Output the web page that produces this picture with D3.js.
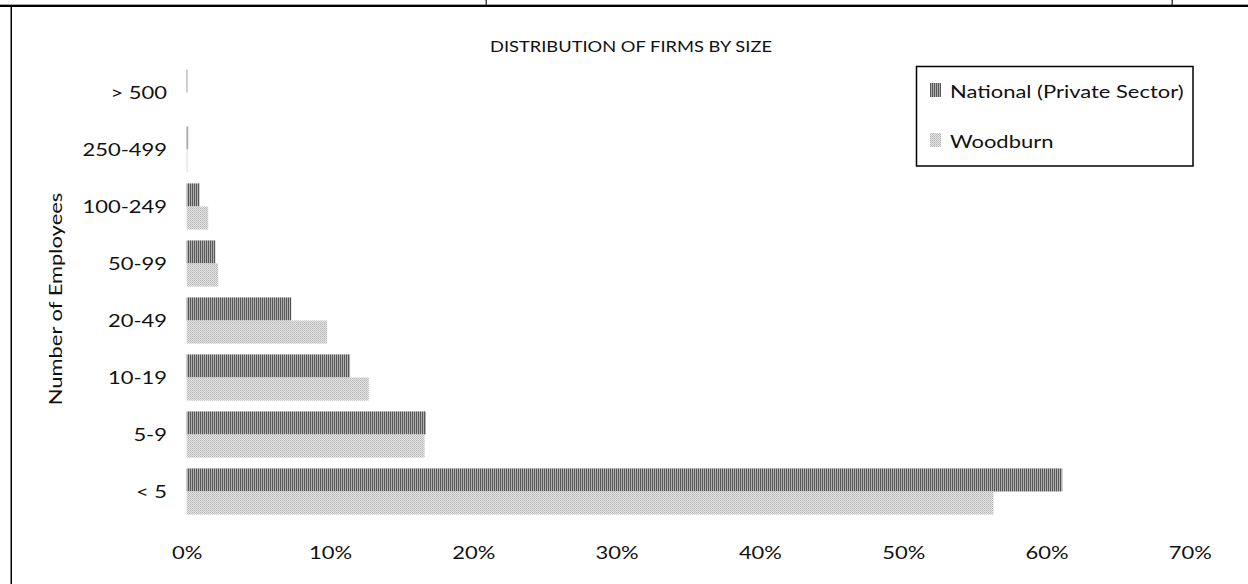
<!DOCTYPE html>
<html><head><meta charset="utf-8">
<script src="https://cdn.jsdelivr.net/npm/d3@7"></script>
<style>body{margin:0;background:#fff}svg{display:block}text{font-family:Lato,"Open Sans",sans-serif;fill:#111}</style>
</head><body>
<svg id="c" width="1248" height="584"></svg>
<script>
const categories = ["> 500","250-499","100-249","50-99","20-49","10-19","5-9","< 5"];
const seriesNames = ["National (Private Sector)","Woodburn"];
const nationalValues = [0.0006,0.001,0.009,0.020,0.073,0.114,0.167,0.611];
const woodburnValues = [0.0,0.0005,0.015,0.022,0.098,0.127,0.166,0.563];
const xTicks = [0,0.1,0.2,0.3,0.4,0.5,0.6,0.7];
const titleText = "DISTRIBUTION OF FIRMS BY SIZE";
const yTitle = "Number of Employees";

const SX = 1.22; // horizontal stretch of the text, as in the reference
const svg = d3.select("#c");
const defs = svg.append("defs");
const p1 = defs.append("pattern").attr("id","pN").attr("patternUnits","userSpaceOnUse").attr("width",2).attr("height",2);
p1.append("rect").attr("width",2).attr("height",2).attr("fill","#b0b0b0");
p1.append("rect").attr("width",1).attr("height",2).attr("fill","#575757");
const p2 = defs.append("pattern").attr("id","pW").attr("patternUnits","userSpaceOnUse").attr("width",2).attr("height",2);
p2.append("rect").attr("width",2).attr("height",2).attr("fill","#e6e6e6");
p2.append("rect").attr("x",0).attr("y",0).attr("width",1).attr("height",1).attr("fill","#b4b4b4");
p2.append("rect").attr("x",1).attr("y",1).attr("width",1).attr("height",1).attr("fill","#c2c2c2");

// frame
svg.append("rect").attr("x",0).attr("y",4).attr("width",1248).attr("height",1).attr("fill","#aaa");
svg.append("rect").attr("x",0).attr("y",5).attr("width",1248).attr("height",2).attr("fill","#000");
svg.append("rect").attr("x",485.5).attr("y",0).attr("width",1.5).attr("height",5).attr("fill","#444");
svg.append("rect").attr("x",1171.5).attr("y",0).attr("width",1.5).attr("height",5).attr("fill","#444");
svg.append("rect").attr("x",10.5).attr("y",5).attr("width",1.5).attr("height",579).attr("fill","#000");

const x = d3.scaleLinear().domain([0,0.7]).range([186.7,1189.8]);
const y = d3.scaleBand().domain(categories).range([64,520]).paddingInner(0.19).paddingOuter(0.095);
const ySub = d3.scaleBand().domain(seriesNames).range([0,y.bandwidth()]);

const data = categories.map((c,i)=>({cat:c, vals:[nationalValues[i], woodburnValues[i]]}));
const g = svg.append("g");
const fills = ["url(#pN)","url(#pW)"];
data.forEach(d=>{
  d.vals.forEach((v,j)=>{
    if (v<=0) return;
    g.append("rect")
      .attr("x",x(0)).attr("y",y(d.cat)+ySub(seriesNames[j]))
      .attr("width",Math.max(0.8,x(v)-x(0))).attr("height",ySub.bandwidth())
      .attr("fill",fills[j]);
  });
});

// x axis labels
const xa = svg.append("g").attr("transform","translate(0,553)")
  .call(d3.axisBottom(x).tickValues(xTicks).tickFormat(d3.format(".0%")).tickSize(0).tickPadding(0));
xa.select(".domain").remove();
xa.selectAll("text").attr("font-size",18).attr("dy","0.35em").attr("y",0)
  .attr("transform",`scale(${SX},1)`).style("font-family","Lato,sans-serif").attr("fill","#111");

// y axis labels
const ya = svg.append("g").attr("transform","translate(167,0)")
  .call(d3.axisLeft(y).tickSize(0).tickPadding(0));
ya.select(".domain").remove();
ya.selectAll("text").attr("font-size",18).attr("dy","0.35em").attr("x",0)
  .attr("transform",`scale(${SX},1)`).style("font-family","Lato,sans-serif").attr("fill","#111");

// titles
svg.append("text").attr("transform",`translate(631,52) scale(${SX},1)`).attr("text-anchor","middle").attr("font-size",15).text(titleText);
svg.append("text").attr("transform",`translate(62,299) rotate(-90) scale(${SX},1)`).attr("text-anchor","middle").attr("font-size",18).text(yTitle);

// legend
const lg = svg.append("g");
lg.append("rect").attr("x",916.5).attr("y",66.5).attr("width",276.5).attr("height",99.5).attr("fill","#fff").attr("stroke","#000").attr("stroke-width",1.5);
seriesNames.forEach((s,i)=>{
  const yy = [83,133][i];
  lg.append("rect").attr("x",930).attr("y",yy).attr("width",11).attr("height",14).attr("fill",fills[i]);
  lg.append("text").attr("transform",`translate(950,${yy+14.5}) scale(${SX},1)`).attr("font-size",18).text(s);
});
</script>
</body></html>
